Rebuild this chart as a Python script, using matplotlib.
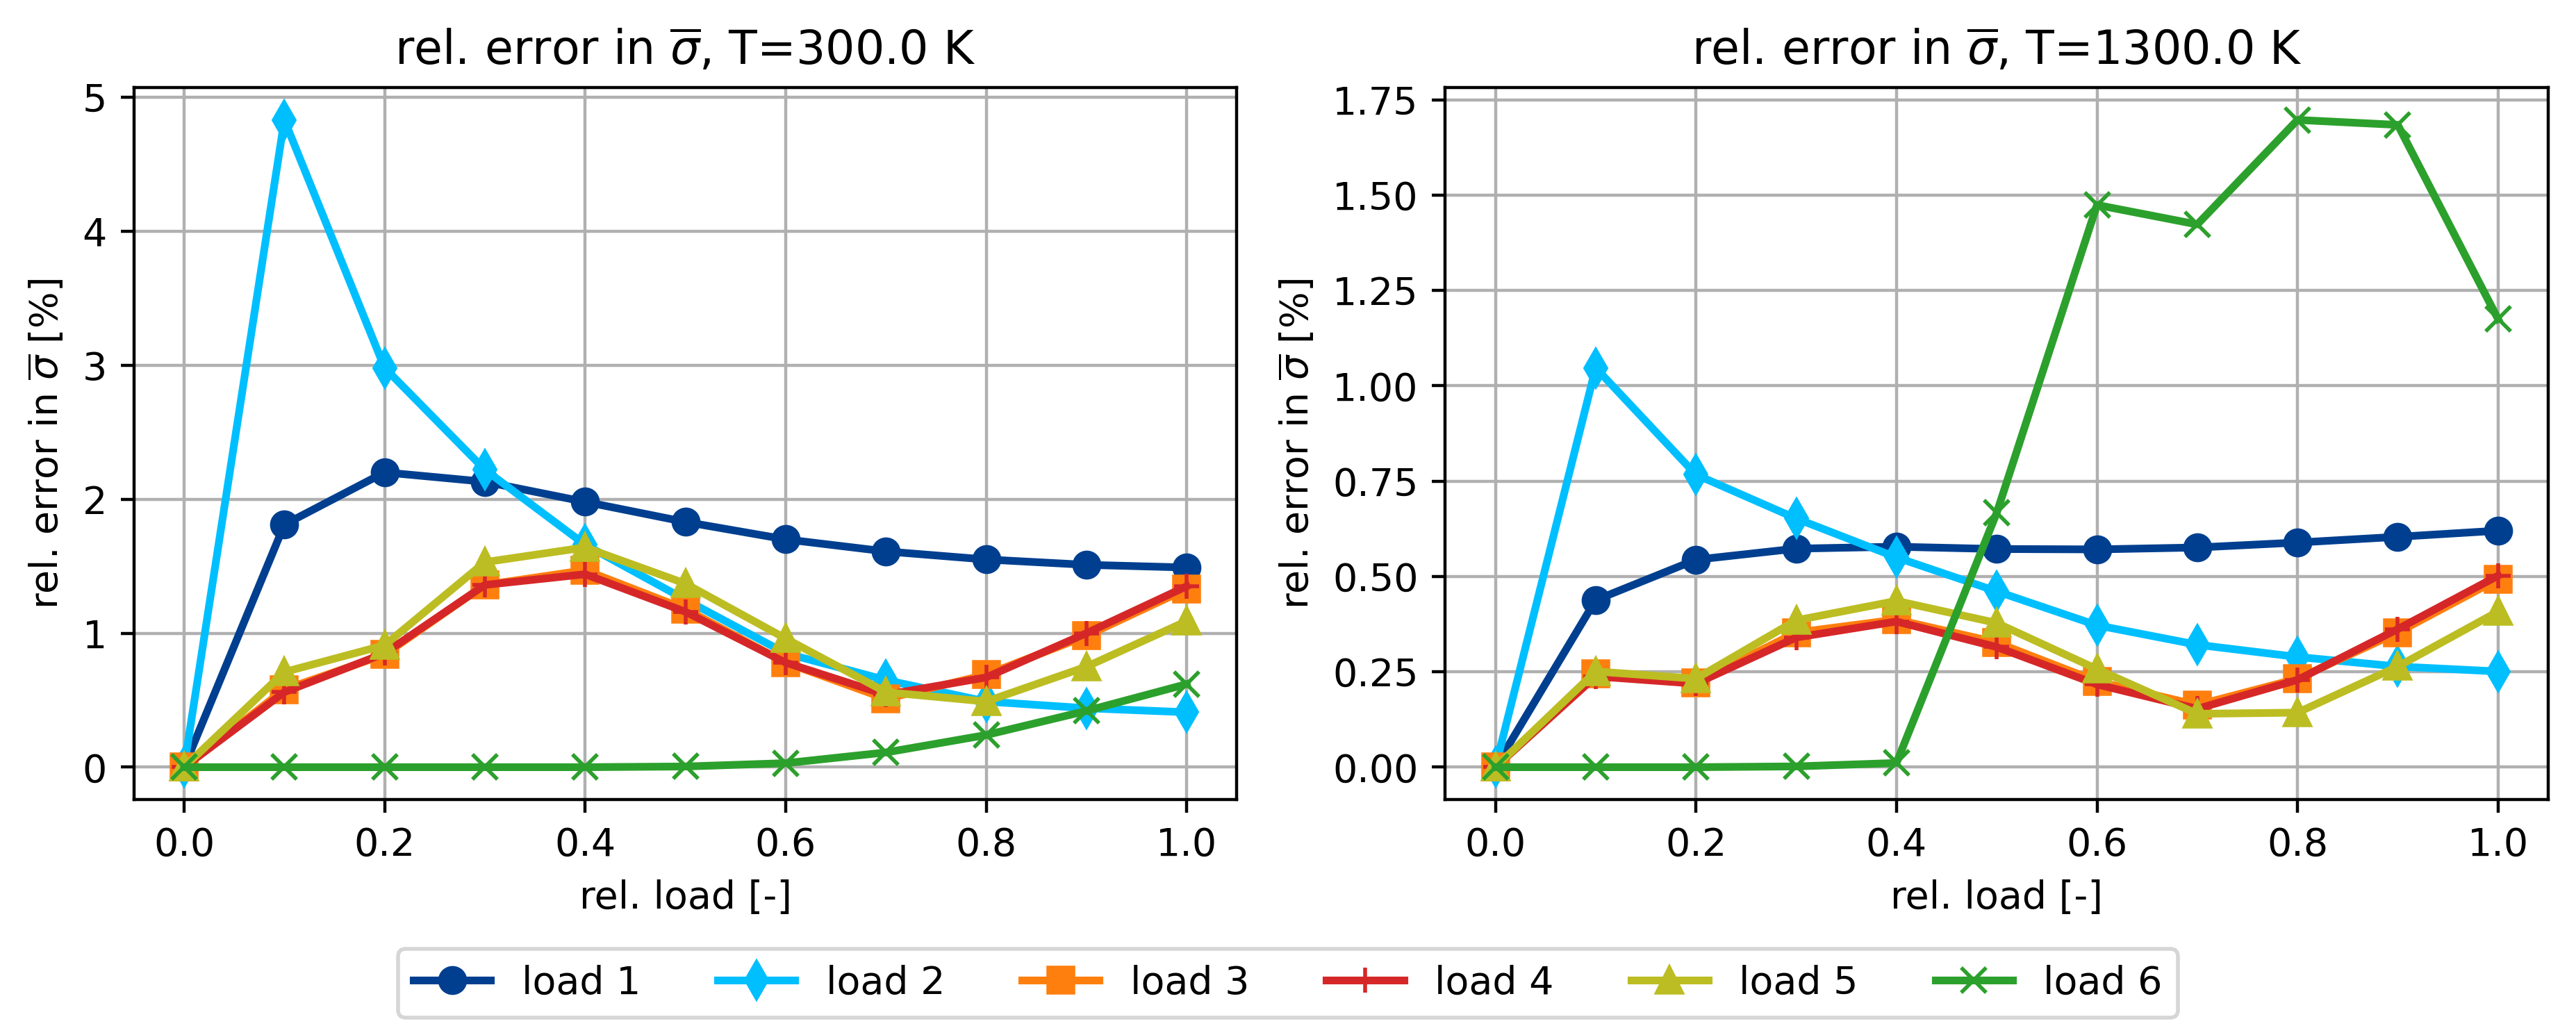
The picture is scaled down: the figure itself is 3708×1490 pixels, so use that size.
import numpy as np
import matplotlib
matplotlib.use("Agg")
import matplotlib.pyplot as plt

# relative load levels
rel_load = [0.0, 0.1, 0.2, 0.3, 0.4, 0.5, 0.6, 0.7, 0.8, 0.9, 1.0]
labels = ["load 1", "load 2", "load 3", "load 4", "load 5", "load 6"]
temps = [300.0, 1300.0]

# T = 300 K
err_300_load1 = [0.0, 1.81, 2.20, 2.13, 1.98, 1.83, 1.70, 1.61, 1.55, 1.51, 1.49]
err_300_load2 = [0.0, 4.83, 2.98, 2.22, 1.66, 1.25, 0.85, 0.65, 0.49, 0.44, 0.41]
err_300_load3 = [0.0, 0.58, 0.84, 1.36, 1.47, 1.18, 0.78, 0.51, 0.69, 0.98, 1.33]
err_300_load4 = [0.0, 0.56, 0.85, 1.36, 1.44, 1.16, 0.78, 0.54, 0.67, 1.00, 1.35]
err_300_load5 = [0.0, 0.71, 0.91, 1.53, 1.64, 1.37, 0.96, 0.56, 0.49, 0.75, 1.09]
err_300_load6 = [0.0, 0.0, 0.0, 0.0, 0.0, 0.005, 0.03, 0.11, 0.24, 0.42, 0.62]

# T = 1300 K
err_1300_load1 = [0.0, 0.438, 0.544, 0.573, 0.578, 0.572, 0.571, 0.576, 0.589, 0.604, 0.620]
err_1300_load2 = [0.0, 1.047, 0.767, 0.652, 0.550, 0.461, 0.372, 0.321, 0.289, 0.264, 0.251]
err_1300_load3 = [0.0, 0.245, 0.222, 0.353, 0.387, 0.327, 0.225, 0.163, 0.232, 0.353, 0.493]
err_1300_load4 = [0.0, 0.238, 0.219, 0.340, 0.382, 0.315, 0.217, 0.153, 0.229, 0.362, 0.502]
err_1300_load5 = [0.0, 0.251, 0.232, 0.385, 0.436, 0.378, 0.257, 0.140, 0.143, 0.264, 0.408]
err_1300_load6 = [0.0, 0.0, 0.0, 0.002, 0.011, 0.667, 1.474, 1.423, 1.697, 1.684, 1.175]

colors = ["#003f8f", "#00bfff", "tab:orange", "tab:red", "tab:olive", "tab:green"]
markers = ["o", "d", "s", "+", "^", "x"]

data = [
    [err_300_load1, err_300_load2, err_300_load3, err_300_load4, err_300_load5, err_300_load6],
    [err_1300_load1, err_1300_load2, err_1300_load3, err_1300_load4, err_1300_load5, err_1300_load6],
]

fig, axes = plt.subplots(1, 2, figsize=(9.27, 3.725), dpi=400)
fig.subplots_adjust(left=0.052, right=0.9892, top=0.9154, bottom=0.2275, wspace=0.189)

for ax, T, series in zip(axes, temps, data):
    for y, lab, c, m in zip(series, labels, colors, markers):
        ax.plot(rel_load, y, color=c, marker=m, label=lab, linewidth=2, markersize=6.5)
    ax.grid(True)
    ax.set_xlabel("rel. load [-]")
    ax.set_ylabel(r"rel. error in $\overline{\sigma}$ [%]")
    ax.set_title(r"rel. error in $\overline{\sigma}$, T=" + str(T) + " K")

axes[0].set_yticks([0, 1, 2, 3, 4, 5])

handles, labs = axes[0].get_legend_handles_labels()
fig.legend(handles, labs, loc="center", bbox_to_anchor=(0.5, 0.05), ncol=6)

fig.savefig("out.png")
